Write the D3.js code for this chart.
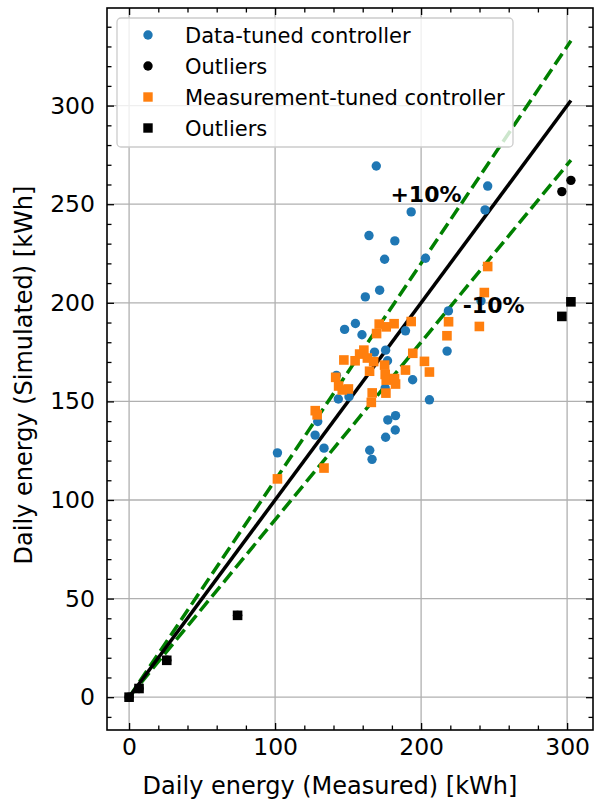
<!DOCTYPE html>
<html>
<head>
<meta charset="utf-8">
<script src="https://cdn.jsdelivr.net/npm/d3@7"></script>
<style>
  body { margin: 0; background: #fff; }
  text { font-family: "DejaVu Sans", sans-serif; }
</style>
</head>
<body>
<div class="graph"></div>
<script>
// [measured, simulated] kWh
const dataTuned = [
  [169.3, 269.4], [193.2, 246.1], [164.3, 234.1], [182.0, 231.4], [175.0, 222.1],
  [203.0, 222.6], [171.6, 206.4], [161.8, 203.0], [245.6, 259.2], [243.8, 247.1],
  [218.7, 195.9], [189.3, 185.8], [241.0, 201.0], [101.6, 123.9], [147.6, 186.5],
  [155.0, 189.5], [159.5, 183.8], [217.8, 175.5], [168.1, 175.0], [175.7, 176.0],
  [177.0, 170.6], [194.2, 161.0], [142.0, 163.2], [143.3, 151.2], [150.6, 152.4],
  [175.4, 156.8], [205.7, 150.8], [177.2, 140.6], [182.5, 142.8], [175.7, 131.8],
  [182.3, 135.5], [129.2, 139.8], [127.4, 132.9], [133.5, 126.3], [164.8, 125.2],
  [166.4, 120.6]
];
const dataOutliers = [
  [302.6, 262.1], [296.4, 256.4], [0, 0], [6.8, 4.4], [25.8, 18.7], [74.3, 41.5]
];
const measTuned = [
  [101.6, 110.7], [171.3, 189.2], [176.1, 187.8], [181.5, 189.4], [193.2, 190.5],
  [169.5, 184.4], [218.8, 190.4], [217.7, 183.3], [160.8, 176.0], [157.9, 174.0],
  [154.8, 170.6], [147.1, 171.0], [163.2, 172.0], [167.5, 170.2], [175.0, 168.4],
  [194.3, 174.4], [202.3, 170.3], [189.3, 165.9], [205.7, 164.9], [164.7, 165.3],
  [175.4, 163.7], [176.1, 160.8], [181.8, 161.6], [182.5, 158.8], [141.5, 162.2],
  [143.5, 157.8], [146.0, 155.8], [150.2, 156.3], [166.5, 154.3], [175.9, 154.2],
  [165.9, 149.5], [127.5, 145.3], [128.8, 143.2], [133.5, 116.2], [245.6, 218.4],
  [243.3, 205.2], [239.9, 188.0]
];
const measOutliers = [
  [302.6, 200.5], [296.4, 193.1], [0, 0], [6.8, 4.4], [25.8, 18.7], [74.3, 41.5]
];
const bandFactors = [1.1, 0.9];
const bandLabels = [{ text: "+10%", x: 179, y: 251 }, { text: "-10%", x: 228.5, y: 195 }];
const legendLabels = ["Data-tuned controller", "Outliers", "Measurement-tuned controller", "Outliers"];

const width = 594, height = 801;
const margin = { top: 8, right: 1, bottom: 71, left: 107 };
const plotW = width - margin.left - margin.right;
const plotH = height - margin.top - margin.bottom;

const blue = "#1f77b4", orange = "#ff7f0e";

let svg = d3.select(".graph").append("svg")
  .attr("width", width)
  .attr("height", height);

let g = svg.append("g").attr("transform", "translate(" + margin.left + "," + margin.top + ")");

// matplotlib-style 5% margins around the data
let allPts = dataTuned.concat(dataOutliers, measTuned, measOutliers);
let xMax = d3.max(allPts, d => d[0]);
let yMax = xMax * bandFactors[0];
let x = d3.scaleLinear().domain([-0.05 * xMax, xMax * 1.05]).range([0, plotW]);
let y = d3.scaleLinear().domain([-0.05 * yMax, yMax * 1.05]).range([plotH, 0]);

let xMajor = d3.range(0, 301, 100);
let xMinor = d3.range(0, 317, 20).filter(v => v % 100 !== 0);
let yMajor = d3.range(0, 301, 50);
let yMinor = d3.range(-10, 349, 10).filter(v => v % 50 !== 0);

// grid
g.append("g").selectAll("line").data(xMajor).enter().append("line")
  .attr("x1", d => x(d)).attr("x2", d => x(d))
  .attr("y1", 0).attr("y2", plotH)
  .attr("stroke", "#b0b0b0").attr("stroke-width", 1.3);
g.append("g").selectAll("line").data(yMajor).enter().append("line")
  .attr("y1", d => y(d)).attr("y2", d => y(d))
  .attr("x1", 0).attr("x2", plotW)
  .attr("stroke", "#b0b0b0").attr("stroke-width", 1.3);

// 1:1 line and +-10% band
let line = d3.line().x(d => x(d[0])).y(d => y(d[1]));
bandFactors.forEach(function(f) {
  g.append("path")
    .attr("d", line([[0, 0], [xMax, xMax * f]]))
    .attr("fill", "none")
    .attr("stroke", "green")
    .attr("stroke-width", 3.5)
    .attr("stroke-dasharray", "13,5.6");
});
g.append("path")
  .attr("d", line([[0, 0], [xMax, xMax]]))
  .attr("fill", "none")
  .attr("stroke", "black")
  .attr("stroke-width", 3.5);

function dots(data, color) {
  g.append("g").selectAll("circle").data(data).enter().append("circle")
    .attr("cx", d => x(d[0])).attr("cy", d => y(d[1]))
    .attr("r", 4.7).attr("fill", color);
}
function squares(data, color) {
  let s = 9.6;
  g.append("g").selectAll("rect").data(data).enter().append("rect")
    .attr("x", d => x(d[0]) - s / 2).attr("y", d => y(d[1]) - s / 2)
    .attr("width", s).attr("height", s).attr("fill", color);
}
dots(dataTuned, blue);
dots(dataOutliers, "black");
squares(measTuned, orange);
squares(measOutliers, "black");

g.selectAll(".band-label").data(bandLabels).enter().append("text")
  .attr("class", "band-label")
  .attr("x", d => x(d.x)).attr("y", d => y(d.y))
  .attr("font-size", "22px").attr("font-weight", "bold")
  .text(d => d.text);

// axes, ticks pointing inward on all four sides
function styleAxis(sel) {
  sel.select(".domain").remove();
  sel.selectAll(".tick line").attr("stroke", "black").attr("stroke-width", 1.3);
  sel.selectAll("text").attr("font-size", "23.5px").attr("fill", "black")
    .attr("font-family", "DejaVu Sans");
}
let fmt = d3.format("d");
g.append("g").attr("transform", "translate(0," + plotH + ")")
  .call(d3.axisBottom(x).tickValues(xMajor).tickFormat(fmt).tickSize(-7).tickPadding(8))
  .call(styleAxis);
g.append("g").attr("transform", "translate(0," + plotH + ")")
  .call(d3.axisBottom(x).tickValues(xMinor).tickFormat("").tickSize(-4.5)).call(styleAxis);
g.append("g")
  .call(d3.axisTop(x).tickValues(xMajor).tickFormat("").tickSize(-7)).call(styleAxis);
g.append("g")
  .call(d3.axisTop(x).tickValues(xMinor).tickFormat("").tickSize(-4.5)).call(styleAxis);
g.append("g")
  .call(d3.axisLeft(y).tickValues(yMajor).tickFormat(fmt).tickSize(-7).tickPadding(12))
  .call(styleAxis);
g.append("g")
  .call(d3.axisLeft(y).tickValues(yMinor).tickFormat("").tickSize(-4.5)).call(styleAxis);
g.append("g").attr("transform", "translate(" + plotW + ",0)")
  .call(d3.axisRight(y).tickValues(yMajor).tickFormat("").tickSize(-7)).call(styleAxis);
g.append("g").attr("transform", "translate(" + plotW + ",0)")
  .call(d3.axisRight(y).tickValues(yMinor).tickFormat("").tickSize(-4.5)).call(styleAxis);

g.append("rect")
  .attr("width", plotW).attr("height", plotH)
  .attr("fill", "none").attr("stroke", "black").attr("stroke-width", 1.6);

// axis titles
svg.append("text")
  .attr("x", 330).attr("y", 794)
  .attr("text-anchor", "middle").attr("font-size", "24px")
  .text("Daily energy (Measured) [kWh]");
svg.append("text")
  .attr("transform", "translate(32,375) rotate(-90)")
  .attr("text-anchor", "middle").attr("font-size", "24px")
  .text("Daily energy (Simulated) [kWh]");

// legend
let legend = svg.append("g").attr("transform", "translate(117,18)");
legend.append("rect")
  .attr("width", 396).attr("height", 129).attr("rx", 4)
  .attr("fill", "white").attr("fill-opacity", 0.8)
  .attr("stroke", "#cccccc").attr("stroke-width", 1.3);
let legendColors = [blue, "black", orange, "black"];
legendLabels.forEach(function(label, i) {
  let cy = 17 + i * 31;
  if (i < 2) {
    legend.append("circle").attr("cx", 31).attr("cy", cy).attr("r", 4.7).attr("fill", legendColors[i]);
  } else {
    legend.append("rect").attr("x", 26.3).attr("y", cy - 4.7).attr("width", 9.4).attr("height", 9.4)
      .attr("fill", legendColors[i]);
  }
  legend.append("text")
    .attr("x", 68).attr("y", cy).attr("dy", "0.36em")
    .attr("font-size", "21px")
    .text(label);
});
</script>
</body>
</html>
